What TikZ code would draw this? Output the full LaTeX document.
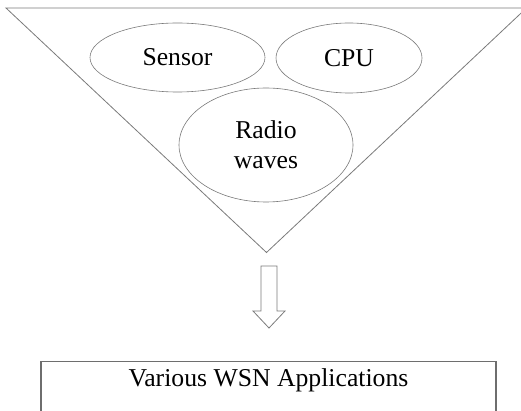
\documentclass[tikz,border=0pt]{standalone}
\usepackage{fontspec}
\setmainfont{Liberation Serif}
\usetikzlibrary{shapes.geometric}
\definecolor{edgegray}{HTML}{7A7A7A}
\definecolor{boxgray}{HTML}{6E6E6E}
\begin{document}
\begin{tikzpicture}[x=1pt,y=-1pt,
  part/.style={ellipse,draw=edgegray,line width=0.6pt,inner sep=0pt,
    font=\fontsize{25.7}{30}\selectfont,align=center},
  appbox/.style={rectangle,draw=boxgray,line width=1.3pt,inner sep=0pt,
    font=\fontsize{25.7}{30}\selectfont,anchor=north,
    minimum width=455pt,minimum height=70pt,text depth=0pt},
  blockarrow/.style={draw=edgegray,line width=0.8pt,line join=miter}]
  \useasboundingbox (0,0) rectangle (521,411);
  \clip (0,0) rectangle (521,411);
  % funnel
  \coordinate (tl) at (6,8);
  \coordinate (tr) at (526.5,8);
  \coordinate (apex) at (266.5,252.5);
  \draw[edgegray,line width=0.8pt] (tl) -- (tr) -- (apex) -- cycle;
  % components inside the funnel
  \node[part,minimum width=175pt,minimum height=69pt] (sensor) at (177.5,57.5) {Sensor};
  \node[part,minimum width=146pt,minimum height=70pt] (cpu) at (349,58) {CPU};
  \node[part,minimum width=174pt,minimum height=114pt] (radio) at (266,145) {Radio\\waves};
  % result box
  \node[appbox] (apps) at (268.5,361) {};
  \node[font=\fontsize{25.7}{30}\selectfont,anchor=base] (appstext) at (268.5,386) {Various WSN Applications};
  % hollow block arrow from funnel to box
  \coordinate (a1) at (261,266);
  \coordinate (a2) at (277,266);
  \draw[blockarrow] (a1) -- (a2) -- (277,311) -- (285,311) -- (269,328)
    -- (253,311) -- (261,311) -- cycle;
\end{tikzpicture}
\end{document}
